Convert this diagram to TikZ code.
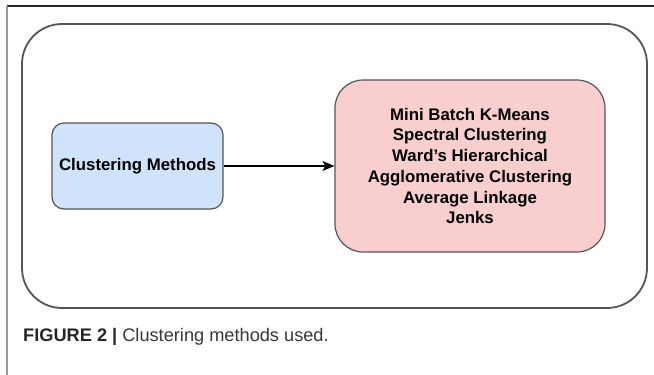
\documentclass[tikz,border=0pt]{standalone}
\usepackage{fontspec}
\setmainfont{Liberation Sans}
\usetikzlibrary{arrows.meta}
\definecolor{boxblue}{RGB}{207,228,250}
\definecolor{boxred}{RGB}{248,206,206}
\definecolor{edgegray}{RGB}{85,85,85}
\definecolor{captext}{RGB}{55,55,55}
\tikzstyle{outer} = [draw = edgegray, line width=1.8pt, rounded corners=40pt]
\tikzstyle{method} = [rectangle, rounded corners=12pt, minimum width=171pt, minimum height=86pt, text centered, draw = edgegray, line width=1.2pt, fill = boxblue, font=\fontsize{16.8}{20.7}\selectfont\bfseries]
\tikzstyle{listing} = [rectangle, rounded corners=28pt, minimum width=270pt, minimum height=172pt, text centered, align=center, draw = edgegray, line width=1.2pt, fill = boxred, font=\fontsize{16.8}{20.7}\selectfont\bfseries]
\tikzstyle{arrow} = [-{Stealth[length=12pt, width=10pt, inset=3pt]}, line width=1.3pt]
\begin{document}
\begin{tikzpicture}[x=1pt, y=-1pt, node distance=332.5pt]
	\useasboundingbox (0,0) rectangle (654,375);
	\draw [line width=1.4pt, black!85] (7,6) -- (654,6);
	\draw [line width=1.4pt, black!40] (7,6) -- (7,375);
	\draw [outer] (22,24) rectangle (647,308);

	\node (methods) [method] at (137.5,166) {Clustering Methods};
	\node (list) [listing, right of=methods] {Mini Batch K-Means\\Spectral Clustering\\Ward's Hierarchical\\Agglomerative Clustering\\Average Linkage\\Jenks};

	\draw [arrow](methods) -- (list);

	\node (caption) [anchor=west, inner sep=0pt, text=captext, font=\fontsize{18.2}{20}\selectfont] at (23,337) {\textbf{\color{black!85}FIGURE 2 |} Clustering methods used.};
\end{tikzpicture}
\end{document}
